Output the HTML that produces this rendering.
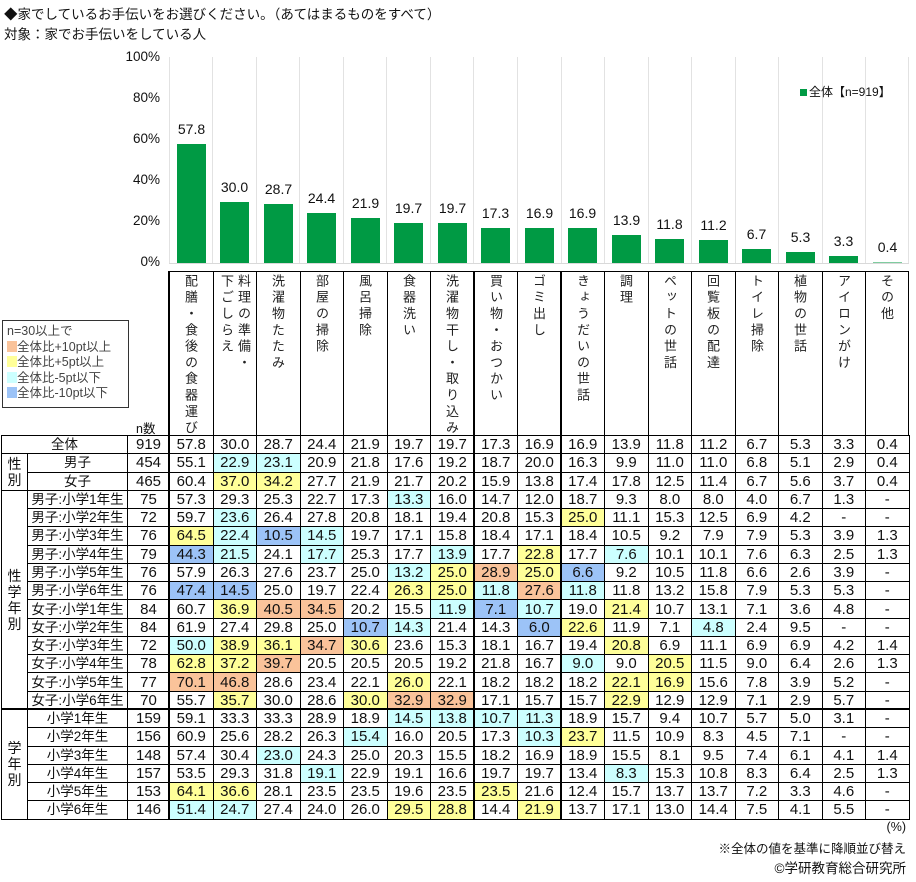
<!DOCTYPE html>
<html><head><meta charset="utf-8">
<style>
body{margin:0;width:916px;height:882px;background:#fff;position:relative;overflow:hidden;font-family:"Liberation Sans","Noto Sans CJK JP",sans-serif;color:#111}
.a{position:absolute;white-space:nowrap}
.t1{font-size:13.5px}
.yl{font-size:13.5px;text-align:right;width:60px;left:100px}
.bar{position:absolute;background:#009a44;width:29px}
.bv{position:absolute;width:43px;text-align:center;font-size:14px}
.vg{position:absolute;top:57px;height:207px;width:1px;background:#e2e2e2}
.hc{position:absolute;top:271px;height:164px;width:43.5px;border-left:1px solid #000;border-top:1px solid #000;box-sizing:border-box}
.vt{position:absolute;top:274px;writing-mode:vertical-rl;font-size:13px;letter-spacing:3.3px;line-height:17px;color:#222}
table{position:absolute;left:1px;top:435px;border-collapse:collapse;table-layout:fixed;width:908px;font-size:15px}
td{border:1px solid #000;padding:0;text-align:center;white-space:nowrap;overflow:hidden;line-height:15px;height:17px}
tr{height:18.28px}
tr.d td{border-bottom:1px dotted #000}
td.g{border-bottom:1px solid #000!important;font-size:14px;line-height:16px}
td.l{font-size:13.5px}
.o{background:#fac39a}.y{background:#ffff99}.c{background:#ccffff}.b{background:#9cc3f7}
.tk{position:absolute;background:#000}
.lg{position:absolute;left:2px;top:320px;width:125px;height:86px;border:1px solid #333;font-size:12.5px;color:#444}
.lg div{height:15.5px;line-height:15.5px;padding-left:4px}
.lg span{display:inline-block;width:10px;height:11px;vertical-align:-1px}
</style></head><body>
<div class="a t1" style="left:4px;top:3px">◆家でしているお手伝いをお選びください。（あてはまるものをすべて）</div>
<div class="a t1" style="left:4px;top:23px">対象：家でお手伝いをしている人</div>

<div class="a yl" style="top:49px">100%</div>
<div class="a yl" style="top:90px">80%</div>
<div class="a yl" style="top:131px">60%</div>
<div class="a yl" style="top:172px">40%</div>
<div class="a yl" style="top:213px">20%</div>
<div class="a yl" style="top:254px">0%</div>

<div class="vg" style="left:169px"></div><div class="vg" style="left:212px"></div><div class="vg" style="left:256px"></div><div class="vg" style="left:299px"></div><div class="vg" style="left:343px"></div><div class="vg" style="left:386px"></div><div class="vg" style="left:430px"></div><div class="vg" style="left:473px"></div><div class="vg" style="left:517px"></div><div class="vg" style="left:561px"></div><div class="vg" style="left:604px"></div><div class="vg" style="left:648px"></div><div class="vg" style="left:691px"></div><div class="vg" style="left:735px"></div><div class="vg" style="left:778px"></div><div class="vg" style="left:822px"></div><div class="vg" style="left:865px"></div><div class="vg" style="left:908px"></div>
<div class="a" style="left:169px;top:263px;width:740px;height:1px;background:#d9d9d9"></div>

<div class="bar" style="left:177px;top:144px;height:119px"></div><div class="bv" style="left:170px;top:121px">57.8</div>
<div class="bar" style="left:220px;top:202px;height:61px"></div><div class="bv" style="left:213px;top:179px">30.0</div>
<div class="bar" style="left:264px;top:204px;height:59px"></div><div class="bv" style="left:257px;top:181px">28.7</div>
<div class="bar" style="left:307px;top:213px;height:50px"></div><div class="bv" style="left:300px;top:190px">24.4</div>
<div class="bar" style="left:351px;top:218px;height:45px"></div><div class="bv" style="left:344px;top:195px">21.9</div>
<div class="bar" style="left:394px;top:223px;height:40px"></div><div class="bv" style="left:387px;top:200px">19.7</div>
<div class="bar" style="left:438px;top:223px;height:40px"></div><div class="bv" style="left:431px;top:200px">19.7</div>
<div class="bar" style="left:481px;top:228px;height:35px"></div><div class="bv" style="left:474px;top:205px">17.3</div>
<div class="bar" style="left:525px;top:228px;height:35px"></div><div class="bv" style="left:518px;top:205px">16.9</div>
<div class="bar" style="left:568px;top:228px;height:35px"></div><div class="bv" style="left:561px;top:205px">16.9</div>
<div class="bar" style="left:612px;top:235px;height:28px"></div><div class="bv" style="left:605px;top:212px">13.9</div>
<div class="bar" style="left:655px;top:239px;height:24px"></div><div class="bv" style="left:648px;top:216px">11.8</div>
<div class="bar" style="left:699px;top:240px;height:23px"></div><div class="bv" style="left:692px;top:217px">11.2</div>
<div class="bar" style="left:742px;top:249px;height:14px"></div><div class="bv" style="left:735px;top:226px">6.7</div>
<div class="bar" style="left:786px;top:252px;height:11px"></div><div class="bv" style="left:779px;top:229px">5.3</div>
<div class="bar" style="left:829px;top:256px;height:7px"></div><div class="bv" style="left:822px;top:233px">3.3</div>
<div class="bar" style="left:873px;top:262px;height:1px;background:#7fcc9f"></div><div class="bv" style="left:866px;top:239px">0.4</div>

<div class="a" style="left:800px;top:83px;font-size:12px"><span style="display:inline-block;width:7px;height:7px;background:#009a44;margin-right:2px"></span>全体【n=919】</div>

<div class="hc" style="left:169.3px"></div><div class="hc" style="left:212.8px"></div><div class="hc" style="left:256.3px"></div><div class="hc" style="left:299.8px"></div><div class="hc" style="left:343.3px"></div><div class="hc" style="left:386.8px"></div><div class="hc" style="left:430.3px"></div><div class="hc" style="left:473.8px"></div><div class="hc" style="left:517.3px"></div><div class="hc" style="left:560.8px"></div><div class="hc" style="left:604.3px"></div><div class="hc" style="left:647.8px"></div><div class="hc" style="left:691.3px"></div><div class="hc" style="left:734.8px"></div><div class="hc" style="left:778.3px"></div><div class="hc" style="left:821.8px"></div><div class="hc" style="left:865.3px;width:44px;border-right:1px solid #000"></div>

<div class="vt" style="left:182px">配膳・食後の食器運び</div>
<div class="vt" style="left:218px">料理の準備・<br>下ごしらえ</div>
<div class="vt" style="left:269px">洗濯物たたみ</div>
<div class="vt" style="left:313px">部屋の掃除</div>
<div class="vt" style="left:356px">風呂掃除</div>
<div class="vt" style="left:400px">食器洗い</div>
<div class="vt" style="left:443px">洗濯物干し・取り込み</div>
<div class="vt" style="left:487px">買い物・おつかい</div>
<div class="vt" style="left:530px">ゴミ出し</div>
<div class="vt" style="left:574px">きょうだいの世話</div>
<div class="vt" style="left:617px">調理</div>
<div class="vt" style="left:661px">ペットの世話</div>
<div class="vt" style="left:704px">回覧板の配達</div>
<div class="vt" style="left:748px">トイレ掃除</div>
<div class="vt" style="left:791px">植物の世話</div>
<div class="vt" style="left:835px">アイロンがけ</div>
<div class="vt" style="left:878px">その他</div>

<div class="lg">
<div style="margin-top:3px">n=30以上で</div>
<div><span class="o"></span>全体比+10pt以上</div>
<div><span class="y"></span>全体比+5pt以上</div>
<div><span class="c"></span>全体比-5pt以下</div>
<div><span class="b"></span>全体比-10pt以下</div>
</div>
<div class="a" style="left:136px;top:418px;font-size:12.5px">n数</div>

<table>
<colgroup><col style="width:26px"><col style="width:100px"><col style="width:42px"><col span="17" style="width:43.5px"></colgroup>
<tr><td class="l" colspan="2">全体</td><td>919</td><td>57.8</td><td>30.0</td><td>28.7</td><td>24.4</td><td>21.9</td><td>19.7</td><td>19.7</td><td>17.3</td><td>16.9</td><td>16.9</td><td>13.9</td><td>11.8</td><td>11.2</td><td>6.7</td><td>5.3</td><td>3.3</td><td>0.4</td></tr>
<tr class="d"><td class="g" rowspan="2">性<br>別</td><td class="l">男子</td><td>454</td><td>55.1</td><td class="c">22.9</td><td class="c">23.1</td><td>20.9</td><td>21.8</td><td>17.6</td><td>19.2</td><td>18.7</td><td>20.0</td><td>16.3</td><td>9.9</td><td>11.0</td><td>11.0</td><td>6.8</td><td>5.1</td><td>2.9</td><td>0.4</td></tr>
<tr><td class="l">女子</td><td>465</td><td>60.4</td><td class="y">37.0</td><td class="y">34.2</td><td>27.7</td><td>21.9</td><td>21.7</td><td>20.2</td><td>15.9</td><td>13.8</td><td>17.4</td><td>17.8</td><td>12.5</td><td>11.4</td><td>6.7</td><td>5.6</td><td>3.7</td><td>0.4</td></tr>
<tr class="d"><td class="g" rowspan="12">性<br>学<br>年<br>別</td><td class="l">男子:小学1年生</td><td>75</td><td>57.3</td><td>29.3</td><td>25.3</td><td>22.7</td><td>17.3</td><td class="c">13.3</td><td>16.0</td><td>14.7</td><td>12.0</td><td>18.7</td><td>9.3</td><td>8.0</td><td>8.0</td><td>4.0</td><td>6.7</td><td>1.3</td><td>-</td></tr>
<tr class="d"><td class="l">男子:小学2年生</td><td>72</td><td>59.7</td><td class="c">23.6</td><td>26.4</td><td>27.8</td><td>20.8</td><td>18.1</td><td>19.4</td><td>20.8</td><td>15.3</td><td class="y">25.0</td><td>11.1</td><td>15.3</td><td>12.5</td><td>6.9</td><td>4.2</td><td>-</td><td>-</td></tr>
<tr class="d"><td class="l">男子:小学3年生</td><td>76</td><td class="y">64.5</td><td class="c">22.4</td><td class="b">10.5</td><td class="c">14.5</td><td>19.7</td><td>17.1</td><td>15.8</td><td>18.4</td><td>17.1</td><td>18.4</td><td>10.5</td><td>9.2</td><td>7.9</td><td>7.9</td><td>5.3</td><td>3.9</td><td>1.3</td></tr>
<tr class="d"><td class="l">男子:小学4年生</td><td>79</td><td class="b">44.3</td><td class="c">21.5</td><td>24.1</td><td class="c">17.7</td><td>25.3</td><td>17.7</td><td class="c">13.9</td><td>17.7</td><td class="y">22.8</td><td>17.7</td><td class="c">7.6</td><td>10.1</td><td>10.1</td><td>7.6</td><td>6.3</td><td>2.5</td><td>1.3</td></tr>
<tr class="d"><td class="l">男子:小学5年生</td><td>76</td><td>57.9</td><td>26.3</td><td>27.6</td><td>23.7</td><td>25.0</td><td class="c">13.2</td><td class="y">25.0</td><td class="o">28.9</td><td class="y">25.0</td><td class="b">6.6</td><td>9.2</td><td>10.5</td><td>11.8</td><td>6.6</td><td>2.6</td><td>3.9</td><td>-</td></tr>
<tr><td class="l">男子:小学6年生</td><td>76</td><td class="b">47.4</td><td class="b">14.5</td><td>25.0</td><td>19.7</td><td>22.4</td><td class="y">26.3</td><td class="y">25.0</td><td class="c">11.8</td><td class="o">27.6</td><td class="c">11.8</td><td>11.8</td><td>13.2</td><td>15.8</td><td>7.9</td><td>5.3</td><td>5.3</td><td>-</td></tr>
<tr class="d"><td class="l">女子:小学1年生</td><td>84</td><td>60.7</td><td class="y">36.9</td><td class="o">40.5</td><td class="o">34.5</td><td>20.2</td><td>15.5</td><td class="c">11.9</td><td class="b">7.1</td><td class="c">10.7</td><td>19.0</td><td class="y">21.4</td><td>10.7</td><td>13.1</td><td>7.1</td><td>3.6</td><td>4.8</td><td>-</td></tr>
<tr class="d"><td class="l">女子:小学2年生</td><td>84</td><td>61.9</td><td>27.4</td><td>29.8</td><td>25.0</td><td class="b">10.7</td><td class="c">14.3</td><td>21.4</td><td>14.3</td><td class="b">6.0</td><td class="y">22.6</td><td>11.9</td><td>7.1</td><td class="c">4.8</td><td>2.4</td><td>9.5</td><td>-</td><td>-</td></tr>
<tr><td class="l">女子:小学3年生</td><td>72</td><td class="c">50.0</td><td class="y">38.9</td><td class="y">36.1</td><td class="o">34.7</td><td class="y">30.6</td><td>23.6</td><td>15.3</td><td>18.1</td><td>16.7</td><td>19.4</td><td class="y">20.8</td><td>6.9</td><td>11.1</td><td>6.9</td><td>6.9</td><td>4.2</td><td>1.4</td></tr>
<tr class="d"><td class="l">女子:小学4年生</td><td>78</td><td class="y">62.8</td><td class="y">37.2</td><td class="o">39.7</td><td>20.5</td><td>20.5</td><td>20.5</td><td>19.2</td><td>21.8</td><td>16.7</td><td class="c">9.0</td><td>9.0</td><td class="y">20.5</td><td>11.5</td><td>9.0</td><td>6.4</td><td>2.6</td><td>1.3</td></tr>
<tr class="d"><td class="l">女子:小学5年生</td><td>77</td><td class="o">70.1</td><td class="o">46.8</td><td>28.6</td><td>23.4</td><td>22.1</td><td class="y">26.0</td><td>22.1</td><td>18.2</td><td>18.2</td><td>18.2</td><td class="y">22.1</td><td class="y">16.9</td><td>15.6</td><td>7.8</td><td>3.9</td><td>5.2</td><td>-</td></tr>
<tr><td class="l">女子:小学6年生</td><td>70</td><td>55.7</td><td class="y">35.7</td><td>30.0</td><td>28.6</td><td class="y">30.0</td><td class="o">32.9</td><td class="o">32.9</td><td>17.1</td><td>15.7</td><td>15.7</td><td class="y">22.9</td><td>12.9</td><td>12.9</td><td>7.1</td><td>2.9</td><td>5.7</td><td>-</td></tr>
<tr class="d"><td class="g" rowspan="6">学<br>年<br>別</td><td class="l">小学1年生</td><td>159</td><td>59.1</td><td>33.3</td><td>33.3</td><td>28.9</td><td>18.9</td><td class="c">14.5</td><td class="c">13.8</td><td class="c">10.7</td><td class="c">11.3</td><td>18.9</td><td>15.7</td><td>9.4</td><td>10.7</td><td>5.7</td><td>5.0</td><td>3.1</td><td>-</td></tr>
<tr class="d"><td class="l">小学2年生</td><td>156</td><td>60.9</td><td>25.6</td><td>28.2</td><td>26.3</td><td class="c">15.4</td><td>16.0</td><td>20.5</td><td>17.3</td><td class="c">10.3</td><td class="y">23.7</td><td>11.5</td><td>10.9</td><td>8.3</td><td>4.5</td><td>7.1</td><td>-</td><td>-</td></tr>
<tr class="d"><td class="l">小学3年生</td><td>148</td><td>57.4</td><td>30.4</td><td class="c">23.0</td><td>24.3</td><td>25.0</td><td>20.3</td><td>15.5</td><td>18.2</td><td>16.9</td><td>18.9</td><td>15.5</td><td>8.1</td><td>9.5</td><td>7.4</td><td>6.1</td><td>4.1</td><td>1.4</td></tr>
<tr class="d"><td class="l">小学4年生</td><td>157</td><td>53.5</td><td>29.3</td><td>31.8</td><td class="c">19.1</td><td>22.9</td><td>19.1</td><td>16.6</td><td>19.7</td><td>19.7</td><td>13.4</td><td class="c">8.3</td><td>15.3</td><td>10.8</td><td>8.3</td><td>6.4</td><td>2.5</td><td>1.3</td></tr>
<tr class="d"><td class="l">小学5年生</td><td>153</td><td class="y">64.1</td><td class="y">36.6</td><td>28.1</td><td>23.5</td><td>23.5</td><td>19.6</td><td>23.5</td><td class="y">23.5</td><td>21.6</td><td>12.4</td><td>15.7</td><td>13.7</td><td>13.7</td><td>7.2</td><td>3.3</td><td>4.6</td><td>-</td></tr>
<tr><td class="l">小学6年生</td><td>146</td><td class="c">51.4</td><td class="c">24.7</td><td>27.4</td><td>24.0</td><td>26.0</td><td class="y">29.5</td><td class="y">28.8</td><td>14.4</td><td class="y">21.9</td><td>13.7</td><td>17.1</td><td>13.0</td><td>14.4</td><td>7.5</td><td>4.1</td><td>5.5</td><td>-</td></tr>
</table>

<div class="tk" style="left:168px;top:271px;width:2px;height:548px"></div>
<div class="tk" style="left:473px;top:271px;width:2px;height:548px"></div>
<div class="tk" style="left:560px;top:271px;width:2px;height:548px"></div>
<div class="tk" style="left:1px;top:708px;width:908px;height:2px"></div>

<div class="a" style="right:10px;top:820px;font-size:12.5px">(%)</div>
<div class="a" style="right:10px;top:838px;font-size:12.5px">※全体の値を基準に降順並び替え</div>
<div class="a" style="right:10px;top:857px;font-size:13.5px">©学研教育総合研究所</div>
</body></html>
